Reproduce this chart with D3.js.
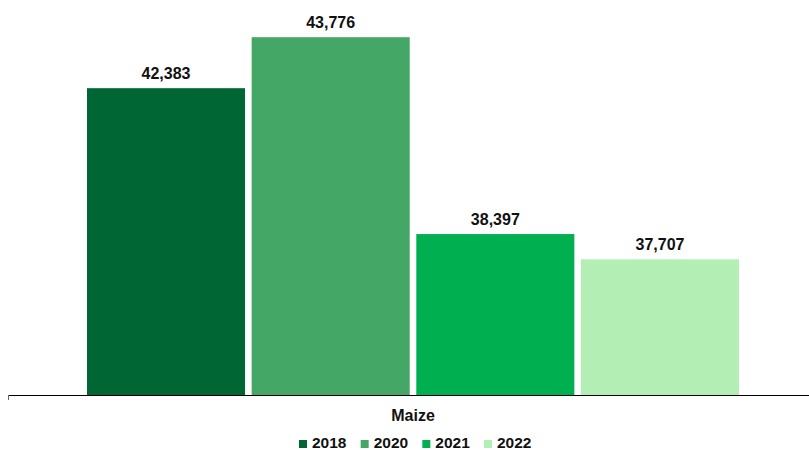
<!DOCTYPE html>
<html><head><meta charset="utf-8">
<script src="https://cdn.jsdelivr.net/npm/d3@7"></script>
<style>body{margin:0;background:#fff}svg{display:block}text{font-family:"Liberation Sans",Arial,sans-serif;font-weight:bold;fill:#111}</style>
</head><body><svg id="c" width="809" height="450"></svg>
<script>
const categories = ["Maize"];
const years = ["2018","2020","2021","2022"];
const values = [42383, 43776, 38397, 37707];
const colors = ["#006633","#44A766","#00B050","#B3EEB4"];

const svg = d3.select("#c");
const baseY = 395;
const y = d3.scaleLinear().domain([34000, 44000]).range([baseY, 29]);
const x0 = d3.scaleBand().domain(categories).range([8, 818]);
const x1 = d3.scaleBand().domain(years).range([87 - 8, 739 - 8]).paddingInner(0.04);

const g = svg.append("g");
const data = years.map((yr, i) => ({yr, v: values[i], c: colors[i]}));
const cat = g.append("g").attr("transform", `translate(${x0(categories[0])},0)`);
cat.selectAll("rect").data(data).join("rect")
  .attr("x", d => x1(d.yr)).attr("width", x1.bandwidth())
  .attr("y", d => y(d.v)).attr("height", d => baseY - y(d.v))
  .attr("fill", d => d.c);
cat.selectAll("text.lbl").data(data).join("text").attr("class","lbl")
  .attr("x", d => x1(d.yr) + x1.bandwidth()/2).attr("y", d => y(d.v) - 9)
  .attr("text-anchor","middle").attr("font-size", 16)
  .text(d => d3.format(",")(d.v));

// axis
const ax = svg.append("g").attr("transform", `translate(0,${baseY})`)
  .call(d3.axisBottom(x0).tickSize(0).tickPadding(12).tickSizeOuter(0));
ax.select(".domain").attr("stroke","#000").attr("d", "M8.5,0.5H809");
ax.selectAll(".tick text").attr("font-size",16).attr("fill","#111").attr("font-family","Liberation Sans, Arial, sans-serif").attr("dy","0.9em");
svg.append("line").attr("x1",8.5).attr("x2",8.5).attr("y1",baseY).attr("y2",baseY+5).attr("stroke","#666");

// legend
const lx = d3.scalePoint().domain(years).range([299, 484]);
const lg = svg.append("g");
const li = lg.selectAll("g").data(data).join("g").attr("transform", d => `translate(${lx(d.yr)},440)`);
li.append("rect").attr("width",8).attr("height",8).attr("fill", d => d.c);
li.append("text").attr("x",13).attr("y",8).attr("font-size",15.5).text(d => d.yr);
</script></body></html>
